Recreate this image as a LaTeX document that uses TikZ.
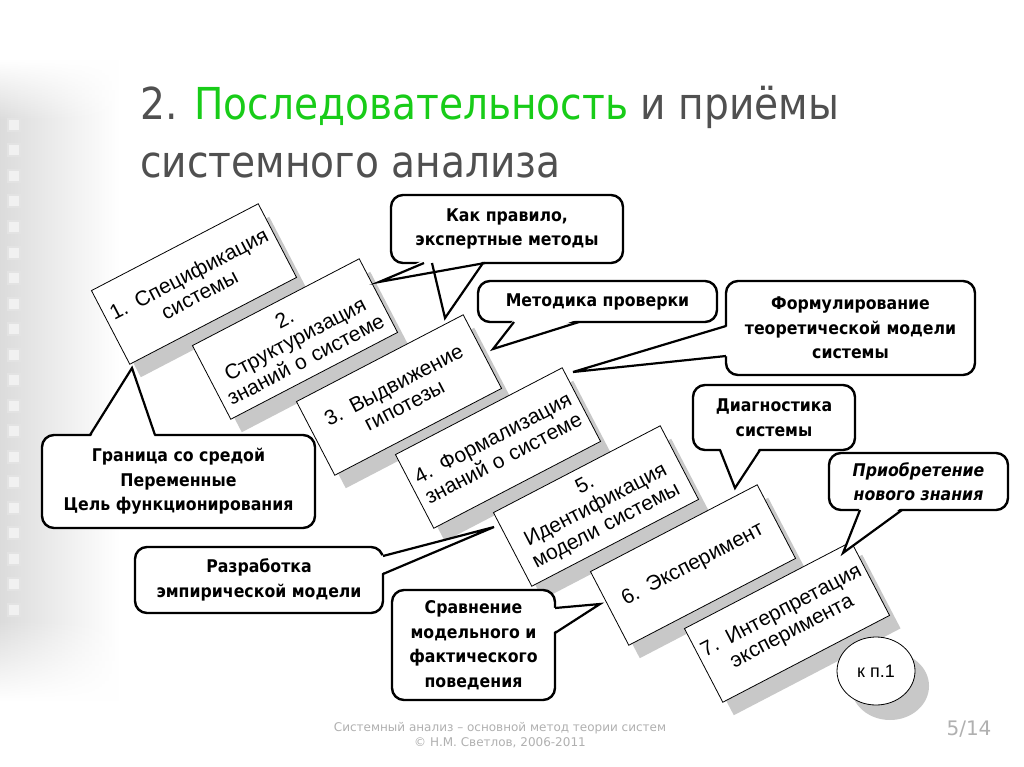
\documentclass[tikz,border=0pt]{standalone}
\usepackage{fontspec}
\setmainfont{Liberation Sans}
\newfontfamily\calloutfont[FakeStretch=0.9]{DejaVu Sans}
\newfontfamily\titlefont[FakeStretch=0.89]{DejaVu Sans}
\newfontfamily\footfont{DejaVu Sans}
\usetikzlibrary{calc,fadings,shapes.geometric}
\definecolor{titlegray}{RGB}{80,80,80}
\definecolor{titlegreen}{RGB}{24,204,24}
\definecolor{shadowgray}{RGB}{200,200,200}
\definecolor{footgray}{RGB}{176,176,176}
\tikzset{
  stepbox/.style={draw=black, line width=0.8pt, fill=white, rotate=27.5, minimum width=188pt, minimum height=83pt, text width=186pt, align=center, inner sep=0pt, font=\fontsize{21}{23}\selectfont},
  stepshadow/.style={fill=shadowgray, draw=none, rotate=27.5, minimum width=188pt, minimum height=83pt, inner sep=0pt},
  callbox/.style={draw=black, line width=2.4pt, fill=white, rounded corners=12pt, inner sep=0pt, align=center, font={\calloutfont\bfseries\fontsize{17.5}{24.5}\selectfont}},
  pointer/.style={draw=black, line width=2.2pt, line join=miter},
  pointerfill/.style={fill=white},
  stripshade/.style={left color=gray!28, right color=white},
}
\begin{document}
\begin{tikzpicture}[x=1pt,y=-1pt]
\useasboundingbox (0,0) rectangle (1024,767);
\fill[white] (0,0) rectangle (1024,767);
% left decorative strip
\shade[stripshade, path fading=north] (0,60) rectangle (120,120);
\shade[stripshade] (0,120) rectangle (120,620);
\shade[stripshade, path fading=south] (0,620) rectangle (120,700);
\foreach \i in {0,...,19} {
  \fill[gray!22] (7,118+25.5*\i) rectangle +(14,14);
  \fill[white, opacity=0.5] (9,120+25.5*\i) rectangle +(10,10);
}
% title
\node[anchor=base west, inner sep=0pt, text=titlegray, font={\titlefont\fontsize{44}{52}\selectfont}] (title1) at (140,120) {2. \textcolor{titlegreen}{Последовательность} и приёмы};
\node[anchor=base west, inner sep=0pt, text=titlegray, font={\titlefont\fontsize{44}{52}\selectfont}] (title2) at (140,178) {системного анализа};

% step boxes with shadows
\node[stepshadow] (sh1) at (205,297) {};
\node[stepbox] (s1) at (194,284) {1. Спецификация\\системы};
\node[stepshadow] (sh2) at (306,352) {};
\node[stepbox] (s2) at (295,339) {2.\\Структуризация\\знаний о системе};
\node[stepshadow] (sh3) at (410,408) {};
\node[stepbox] (s3) at (399,395) {3. Выдвижение\\гипотезы};
\node[stepshadow] (sh4) at (509,461) {};
\node[stepbox] (s4) at (498,448) {4. Формализация\\знаний о системе};
\node[stepshadow] (sh5) at (607,519) {};
\node[stepbox] (s5) at (596,506) {5.\\Идентификация\\модели системы};
\node[stepshadow] (sh6) at (704,578) {};
\node[stepbox] (s6) at (693,565) {6. Эксперимент};
\node[stepshadow] (sh7) at (798,635) {};
\node[stepbox] (s7) at (787,622) {7. Интерпретация\\эксперимента};

% callouts
\node[callbox, minimum width=232pt, minimum height=68pt] (ca) at (507,229) {Как правило,\\экспертные методы};
\node[callbox, minimum width=239pt, minimum height=41pt] (cb) at (597.5,301.5) {Методика проверки};
\node[callbox, minimum width=249pt, minimum height=94pt] (cc) at (850.5,328) {Формулирование\\теоретической модели\\системы};
\node[callbox, minimum width=162pt, minimum height=65pt] (cd) at (774,417.5) {Диагностика\\системы};
\node[callbox, minimum width=179pt, minimum height=57pt] (ce) at (918.5,481.5) {\itshape Приобретение\\\itshape нового знания};
\node[callbox, minimum width=273pt, minimum height=93pt] (cf) at (178.5,481.5) {Граница со средой\\Переменные\\Цель функционирования};
\node[callbox, minimum width=248pt, minimum height=66pt] (cg) at (259,580) {Разработка\\эмпирической модели};
\node[callbox, minimum width=163pt, minimum height=110pt] (ch) at (473.5,645) {Сравнение\\модельного и\\фактического\\поведения};

% pointer tips
\coordinate (ta1) at (379,282);
\coordinate (ta2) at (445,318);
\coordinate (tb) at (493,349);
\coordinate (tc) at (573,372);
\coordinate (td) at (735,488);
\coordinate (te) at (843,553);
\coordinate (tf) at (132,368);
\coordinate (tg) at (494,527);
\coordinate (th) at (600,604);

% pointer bases (on the callout borders)
\coordinate (a1l) at (424,263); \coordinate (a1r) at (485,263);
\coordinate (a2l) at (432,263); \coordinate (a2r) at (483,263);
\coordinate (bl) at (514,322);  \coordinate (br) at (579,322);
\coordinate (cl) at (726,326);  \coordinate (cr) at (726,356);
\coordinate (dl) at (720,450);  \coordinate (dr) at (760,450);
\coordinate (el) at (860,510);  \coordinate (er) at (902,510);
\coordinate (fl) at (90,435);   \coordinate (fr) at (155,435);
\coordinate (gl) at (383,556);  \coordinate (gr) at (383,574);
\coordinate (hl) at (555,608);  \coordinate (hr) at (555,633);

% pointer fills (erase border between base points)
\fill[pointerfill] ($(a1l)+(0,-3)$) -- (ta1) -- ($(a1r)+(0,-3)$) -- cycle;
\fill[pointerfill] ($(a2l)+(0,-3)$) -- (ta2) -- ($(a2r)+(0,-3)$) -- cycle;
\fill[pointerfill] ($(bl)+(0,-3)$) -- (tb) -- ($(br)+(0,-3)$) -- cycle;
\fill[pointerfill] ($(cl)+(3,0)$) -- (tc) -- ($(cr)+(3,0)$) -- cycle;
\fill[pointerfill] ($(dl)+(0,-3)$) -- (td) -- ($(dr)+(0,-3)$) -- cycle;
\fill[pointerfill] ($(el)+(0,-3)$) -- (te) -- ($(er)+(0,-3)$) -- cycle;
\fill[pointerfill] ($(fl)+(0,3)$) -- (tf) -- ($(fr)+(0,3)$) -- cycle;
\fill[pointerfill] ($(gl)+(-3,0)$) -- (tg) -- ($(gr)+(-3,0)$) -- cycle;
\fill[pointerfill] ($(hl)+(-3,0)$) -- (th) -- ($(hr)+(-3,0)$) -- cycle;

% pointer outlines
\draw[pointer] (a1l) -- (ta1) -- (a1r);
\draw[pointer] (a2l) -- (ta2) -- (a2r);
\draw[pointer] (bl) -- (tb) -- (br);
\draw[pointer] (cl) -- (tc) -- (cr);
\draw[pointer] (dl) -- (td) -- (dr);
\draw[pointer] (el) -- (te) -- (er);
\draw[pointer] (fl) -- (tf) -- (fr);
\draw[pointer] (gl) -- (tg) -- (gr);
\draw[pointer] (hl) -- (th) -- (hr);

% back reference ellipse
\node[ellipse, fill=shadowgray, minimum width=78pt, minimum height=68pt, inner sep=0pt] (kpsh) at (890,686) {};
\node[ellipse, draw=black, line width=0.8pt, fill=white, minimum width=78pt, minimum height=68pt, inner sep=0pt, font=\fontsize{18}{20}\selectfont] (kp) at (876,671) {к п.1};

% footer
\node[align=center, text=footgray, font={\footfont\fontsize{12}{15}\selectfont}] (foot) at (500,735) {Системный анализ – основной метод теории систем\\© Н.М. Светлов, 2006-2011};
\node[text=footgray, font={\footfont\fontsize{20}{22}\selectfont}] (page) at (969,729) {5/14};
\end{tikzpicture}
\end{document}
